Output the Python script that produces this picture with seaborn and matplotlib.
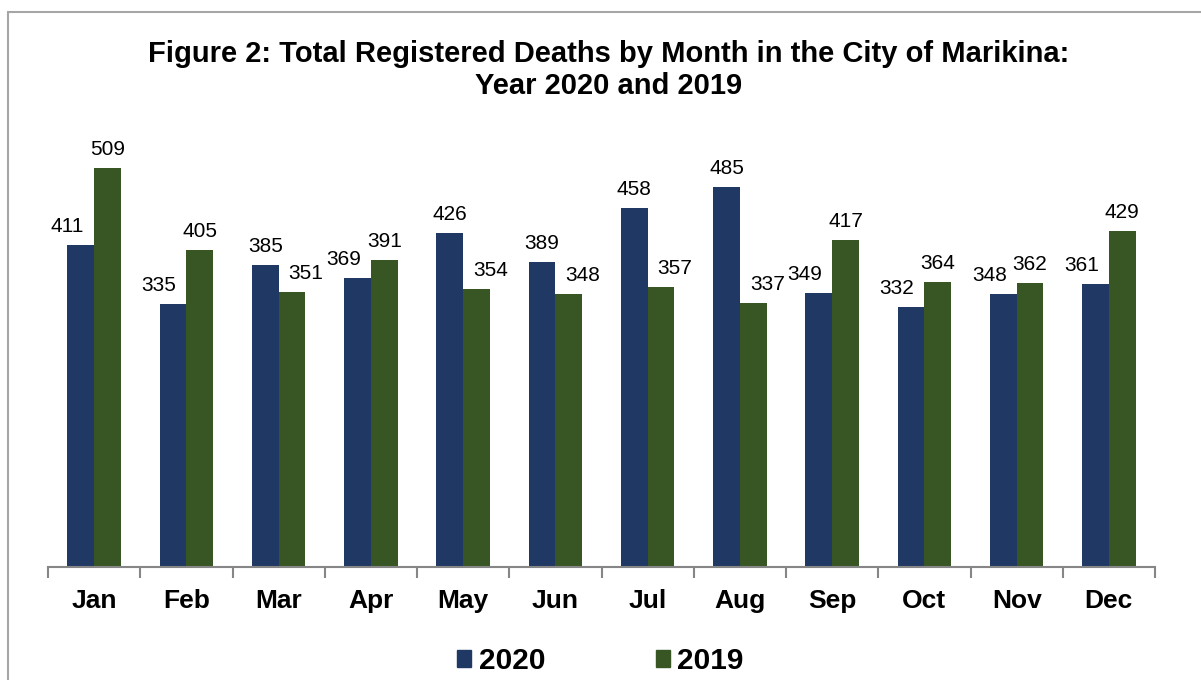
import pandas as pd
import seaborn as sns
import matplotlib.pyplot as plt
from matplotlib.patches import Patch
from matplotlib.lines import Line2D

months = ['Jan', 'Feb', 'Mar', 'Apr', 'May', 'Jun', 'Jul', 'Aug', 'Sep', 'Oct', 'Nov', 'Dec']
deaths_2020 = [411, 335, 385, 369, 426, 389, 458, 485, 349, 332, 348, 361]
deaths_2019 = [509, 405, 351, 391, 354, 348, 357, 337, 417, 364, 362, 429]
years = ['2020', '2019']
colors = ['#1F3864', '#375623']

df = pd.DataFrame({
    'Month': months * 2,
    'Deaths': deaths_2020 + deaths_2019,
    'Year': ['2020'] * 12 + ['2019'] * 12,
})

sns.set_style('white')
plt.rcParams['font.family'] = ['Liberation Sans', 'DejaVu Sans']
plt.rcParams['text.color'] = 'black'
plt.rcParams['xtick.color'] = 'black'

fig = plt.figure(figsize=(12.01, 6.80), dpi=100)
ax = fig.add_axes([48 / 1201, 113 / 680, 1107 / 1201, 439 / 680])

sns.barplot(data=df, x='Month', y='Deaths', hue='Year', hue_order=years,
            palette=colors, width=0.58, saturation=1, linewidth=0, ax=ax, legend=False)

ax.set_xlim(-0.5, 11.5)
ax.set_ylim(0, 560)
ax.set_xlabel('')
ax.set_ylabel('')
ax.set_yticks([])
for side in ['left', 'right', 'top']:
    ax.spines[side].set_visible(False)
ax.spines['bottom'].set_color('#868686')
ax.spines['bottom'].set_linewidth(1.5)

ax.set_xticks(range(12))
ax.set_xticklabels(months, fontsize=19, fontweight='bold')
ax.tick_params(axis='x', which='major', length=0, pad=16, labelcolor='black')
ax.set_xticks([i - 0.5 for i in range(13)], minor=True)
ax.tick_params(axis='x', which='minor', bottom=True, length=8, width=1.5,
               color='#868686', direction='out')

# data labels: the lower bar of a pair is nudged outward like in the original
for i in range(12):
    a, b = deaths_2020[i], deaths_2019[i]
    for k, cont in enumerate(ax.containers):
        bar = cont[i]
        val = [a, b][k]
        other = [b, a][k]
        dx = 0
        if val < other:
            dx = -14 if k == 0 else 14
        ax.annotate(str(val), (bar.get_x() + bar.get_width() / 2, bar.get_height()),
                    xytext=(dx, 9), textcoords='offset pixels',
                    ha='center', va='bottom', fontsize=15, color='black')

fig.text(0.507, 1 - 70 / 680, 'Figure 2: Total Registered Deaths by Month in the City of Marikina:\nYear 2020 and 2019',
         ha='center', va='center', fontsize=21, fontweight='bold', linespacing=1.22, color='black')

handles = [Patch(facecolor=c, edgecolor=c) for c in colors]
fig.legend(handles, years, loc='center', bbox_to_anchor=(0.5, 1 - 661 / 680), ncol=2,
           frameon=False, prop={'size': 21.5, 'weight': 'bold'},
           handlelength=0.47, handleheight=0.47, handletextpad=0.25, columnspacing=3.7)

# outer chart-area border (only left and top visible)
fig.add_artist(Line2D([8 / 1201, 8 / 1201], [0, 1 - 12 / 680], color='#A6A6A6', linewidth=1.5))
fig.add_artist(Line2D([8 / 1201, 1], [1 - 12 / 680, 1 - 12 / 680], color='#A6A6A6', linewidth=1.5))

fig.savefig('out.png', dpi=100)
